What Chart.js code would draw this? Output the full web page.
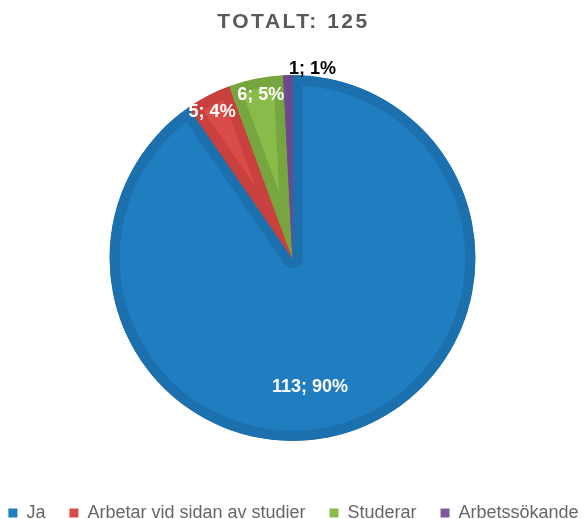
<!DOCTYPE html>
<html>
<head>
<meta charset="utf-8">
<script src="https://cdn.jsdelivr.net/npm/chart.js@4"></script>
<style>
  html, body { margin: 0; padding: 0; background: #fff; }
  #wrap { width: 585px; height: 519px; }
</style>
</head>
<body>
<div id="wrap"><canvas id="pie"></canvas></div>
<script>
// data
const categories = ['Ja', 'Arbetar vid sidan av studier', 'Studerar', 'Arbetssökande'];
const counts = [113, 5, 6, 1];
const percentLabels = ['90%', '4%', '5%', '1%'];
const totalLabel = 'TOTALT: 125';

// styles
const FILL = ['#1f7dc0', '#d94c49', '#89bb4b', '#7d5a9e'];
const EDGE = ['#1d70ae', '#c8413e', '#77a641', '#6c4a8d'];
const FONT = "'Liberation Sans', Arial, sans-serif";
// label placement: radius factor, angle nudge (deg), text colour
const LABEL_POS = [
    { f: 0.71, da: 9.5, color: '#fff' },
    { f: 0.91, da: -1.5, color: '#fff' },
    { f: 0.91, da: 0.5, color: '#fff' },
    { f: 1.04, da: 7.5, color: '#000' },
];

// Chart.js title has no letter-spacing option -> wrap its draw
const titleSpacing = {
    id: 'titleSpacing',
    beforeDraw(chart) {
        const tb = chart.titleBlock;
        if (tb && !tb._spaced) {
            const orig = tb.draw.bind(tb);
            tb.draw = function (area) {
                const ctx = chart.ctx;
                ctx.save();
                ctx.letterSpacing = '2.5px';
                orig(area);
                ctx.letterSpacing = '0px';
                ctx.restore();
            };
            tb._spaced = true;
        }
    }
};

const sliceLabels = {
    id: 'sliceLabels',
    afterDatasetsDraw(chart) {
        const ctx = chart.ctx;
        const meta = chart.getDatasetMeta(0);
        ctx.save();
        ctx.font = `bold 18px ${FONT}`;
        ctx.textAlign = 'center';
        ctx.textBaseline = 'middle';
        meta.data.forEach((arc, i) => {
            const p = arc.getProps(['x', 'y', 'startAngle', 'endAngle', 'outerRadius'], true);
            const pos = LABEL_POS[i];
            const mid = (p.startAngle + p.endAngle) / 2 + pos.da * Math.PI / 180;
            const r = p.outerRadius * pos.f;
            ctx.fillStyle = pos.color;
            ctx.fillText(`${counts[i]}; ${percentLabels[i]}`, p.x + Math.cos(mid) * r, p.y + Math.sin(mid) * r);
        });
        ctx.restore();
    }
};

new Chart(document.getElementById('pie'), {
    type: 'pie',
    data: {
        labels: categories,
        datasets: [{
            data: counts,
            backgroundColor: FILL,
            borderColor: EDGE,
            borderWidth: 10,
            borderAlign: 'inner',
        }]
    },
    options: {
        responsive: true, maintainAspectRatio: false, animation: false,
        // negative side padding lets the legend row spread as wide as the original
        layout: { padding: { left: -17, right: -19, top: 0, bottom: -13 } },
        plugins: {
            title: {
                display: true, text: totalLabel, color: '#595959',
                font: { family: FONT, size: 21, weight: 'bold' },
                padding: { top: 10, bottom: 39.8 }
            },
            legend: {
                position: 'bottom',
                // empty legend title only used as spacer above the items
                title: { display: true, text: '', font: { size: 10 }, padding: { top: 27, bottom: 0 } },
                labels: {
                    color: '#505050', font: { family: FONT, size: 18 },
                    boxWidth: 9, boxHeight: 9, padding: 24,
                    generateLabels: (chart) => categories.map((c, i) => ({
                        text: c, fillStyle: FILL[i], strokeStyle: FILL[i], lineWidth: 0, index: i, hidden: false
                    }))
                }
            },
            tooltip: { enabled: false }
        }
    },
    plugins: [titleSpacing, sliceLabels]
});
</script>
</body>
</html>
